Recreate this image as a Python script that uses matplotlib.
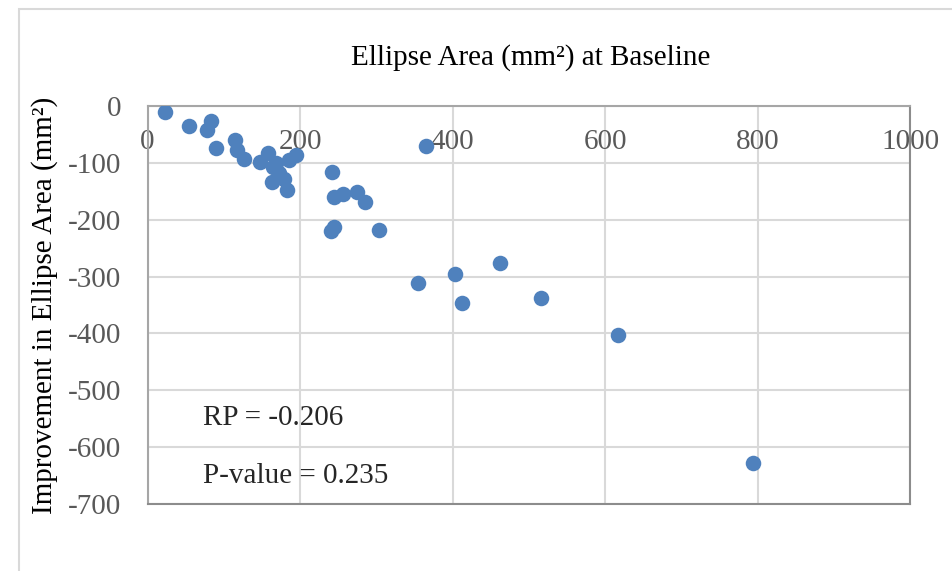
import matplotlib.pyplot as plt
from matplotlib.patches import Rectangle

# baseline ellipse area (mm^2) and change after treatment
baseline = [23, 55, 83, 78, 90, 115, 117, 127, 148, 158, 165, 172, 163, 179,
            183, 185, 195, 168, 242, 244, 257, 275, 285, 240, 244, 304, 365,
            355, 403, 413, 462, 516, 617, 794]
improvement = [-11, -36, -26, -43, -74, -59, -77, -93, -98, -83, -107, -118,
               -134, -128, -147, -95, -86, -100, -116, -160, -155, -152, -168,
               -220, -213, -218, -70, -311, -296, -346, -276, -337, -403, -627]
x_ticks = [0, 200, 400, 600, 800, 1000]
y_ticks = [0, -100, -200, -300, -400, -500, -600, -700]
rp_text = "RP = -0.206"
p_text = "P-value = 0.235"

plt.rcParams['font.family'] = ['Liberation Serif', 'DejaVu Serif']
plt.rcParams['axes.unicode_minus'] = False

fig = plt.figure(figsize=(9.53, 5.71), dpi=100)
ax = fig.add_axes([0.1548, 0.1173, 0.8001, 0.6971])

ax.scatter(baseline, improvement, s=125, color='#4f81bd', zorder=3,
           linewidths=0)

ax.set_xlim(0, 1000)
ax.set_ylim(-700, 0)
ax.set_xticks(x_ticks)
ax.set_yticks(y_ticks)
ax.grid(True, color='#d9d9d9', lw=1.5, zorder=0)
ax.set_axisbelow(True)

# x labels hang just under the zero line at the top
ax.tick_params(axis='x', top=True, labeltop=True, bottom=False,
               labelbottom=False, length=0, pad=-35, labelsize=21,
               labelcolor='#595959')
ax.tick_params(axis='y', length=0, pad=19, labelsize=21, labelcolor='#595959')

for side in ['left', 'top']:
    ax.spines[side].set_color('#a6a6a6')
    ax.spines[side].set_linewidth(1.5)
for side in ['right', 'bottom']:
    ax.spines[side].set_color('#8c8c8c')
    ax.spines[side].set_linewidth(1.5)

ax.text(73, -549, rp_text, fontsize=21, color='#262626', va='center')
ax.text(73, -650, p_text, fontsize=21, color='#262626', va='center')

fig.text(531 / 953, 1 - 58 / 571, "Ellipse Area (mm²) at Baseline",
         fontsize=21, ha='center', va='center')
fig.text(45 / 953, 1 - 305 / 571, "Improvement in Ellipse Area (mm²)",
         fontsize=21, rotation=90, ha='center', va='center')

# outer chart frame
fig.patches.append(Rectangle((19 / 953, -0.1), 1.2, 1 - 9 / 571 + 0.1,
                             transform=fig.transFigure, fill=False,
                             edgecolor='#d9d9d9', lw=1.5))

fig.savefig('out.png', dpi=100)
